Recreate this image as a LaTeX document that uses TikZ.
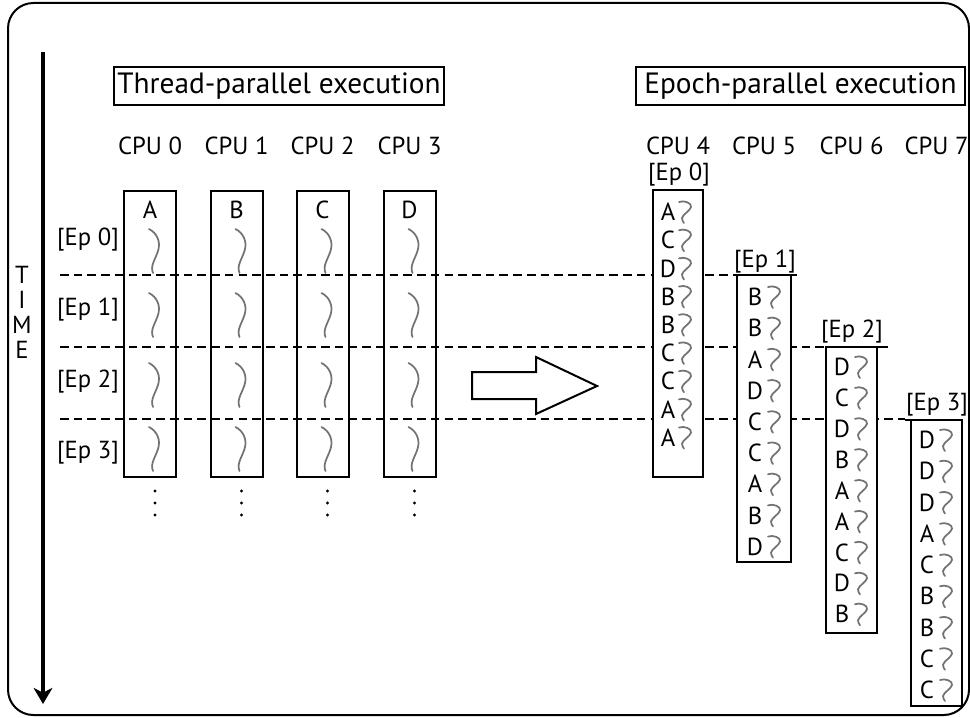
\documentclass[tikz,border=0pt]{standalone}
\usepackage{fontspec}
\setmainfont{PT Sans}
\usetikzlibrary{arrows.meta}
\begin{document}
\begin{tikzpicture}[x=0.75pt,y=-0.75pt,
  frame/.style={line width=1.5pt,rounded corners=19pt},
  boxline/.style={line width=1.5pt},
  epbox/.style={line width=1.5pt,fill=white},
  dashline/.style={line width=1.5pt,dash pattern=on 6.5pt off 3.8pt},
  txt/.style={font=\fontsize{18.5}{21}\selectfont,inner sep=0pt},
  title/.style={font=\fontsize{22}{25}\selectfont,inner sep=0pt},
  sq/.style={draw=black!55,line width=1.3pt,line cap=round},
  bigsq/.pic={\draw[sq] (-1,0) .. controls (7,4) and (11,13) .. (8,22) .. controls (5,31) and (0,37) .. (3,44);},
  smsq/.pic={\draw[sq] (0,1) .. controls (5,-1) and (13,2) .. (12,6) .. controls (11,10) and (4,13) .. (3,17) .. controls (3,19) and (4,21) .. (5,22);}
]
\useasboundingbox (0,0) rectangle (970,717);
% outer frame
\draw[frame] (8,3) rectangle (969,715);
% time arrow
\coordinate (ttop) at (43,52);
\coordinate (tbot) at (43,704);
\draw[line width=3pt,-{Stealth[length=12pt,width=14pt,inset=3.5pt]}] (ttop) -- (tbot);
\node[txt,align=center,font=\fontsize{18.5}{18.75}\selectfont] (time) at (22,312) {T\\I\\M\\E};
% titles
\node[title,draw,line width=1.1pt,minimum width=247.5pt,minimum height=28.5pt] (t1) at (279,86) {Thread-parallel execution};
\node[title,draw,line width=1.1pt,minimum width=246.75pt,minimum height=28.5pt] (t2) at (800.5,86) {Epoch-parallel execution};
% CPU labels
\foreach \x/\n in {150/0,236.5/1,322.5/2,409.5/3,678/4,764/5,851.5/6,936.5/7}
  \node[txt] (cpu\n) at (\x,146) {CPU \n};
% dashed epoch lines
\coordinate (d1a) at (60,275); \coordinate (d1b) at (737,275);
\coordinate (d2a) at (60,347); \coordinate (d2b) at (826,347);
\coordinate (d3a) at (60,419); \coordinate (d3b) at (905,419);
\draw[dashline] (d1a) -- (d1b);
\draw[dashline] (d2a) -- (d2b);
\draw[dashline] (d3a) -- (d3b);
% left epoch labels
\foreach \y/\n in {240/0,310/1,382/2,453/3}
  \node[txt] (lep\n) at (88,\y) {[Ep \n]};
% left boxes
\foreach \x/\l in {150/A,236.5/B,322.5/C,409.5/D}{
  \draw[boxline] (\x-26,191) rectangle (\x+26,477);
  \node[txt] (let\l) at (\x,210) {\l};
  \foreach \t in {229,293,363,427}
    \pic at (\x,\t) {bigsq};
  \foreach \d in {491,503,515}
    \fill (\x+5,\d) circle (1.2pt);
}
% hollow arrow
\draw[boxline,fill=white] (472,372) -- (536,372) -- (536,357) -- (597,386) -- (536,414) -- (536,399) -- (472,399) -- cycle;
% epoch boxes
\draw[epbox] (653,190) rectangle (703,477);
\draw[epbox] (737,275) rectangle (791,562);
\draw[epbox] (826,347) rectangle (877,633);
\draw[epbox] (911,420) rectangle (962,706);
\draw[boxline] (737,275) -- (797,275);
\draw[boxline] (826,347) -- (888,347);
\draw[boxline] (905,420) -- (962,420);
\node[txt] (rep0) at (679,175) {[Ep 0]};
\node[txt] (rep1) at (765,262) {[Ep 1]};
\node[txt] (rep2) at (852,332) {[Ep 2]};
\node[txt] (rep3) at (937,405) {[Ep 3]};
% epoch contents
\foreach \l [count=\i from 0] in {A,C,D,B,B,C,C,A,A}{
  \node[txt] (e0l\i) at (668,212+28.2*\i) {\l};
  \pic at (679,201+28.2*\i) {smsq};}
\foreach \l [count=\i from 0] in {B,B,A,D,C,C,A,B,D}{
  \node[txt] (e1l\i) at (755,297+31.2*\i) {\l};
  \pic at (768,286+31.2*\i) {smsq};}
\foreach \l [count=\i from 0] in {D,C,D,B,A,A,C,D,B}{
  \node[txt] (e2l\i) at (842,367+30.9*\i) {\l};
  \pic at (855,356+30.9*\i) {smsq};}
\foreach \l [count=\i from 0] in {D,D,D,A,C,B,B,C,C}{
  \node[txt] (e3l\i) at (927,440+31.25*\i) {\l};
  \pic at (940,429+31.25*\i) {smsq};}
\end{tikzpicture}
\end{document}
